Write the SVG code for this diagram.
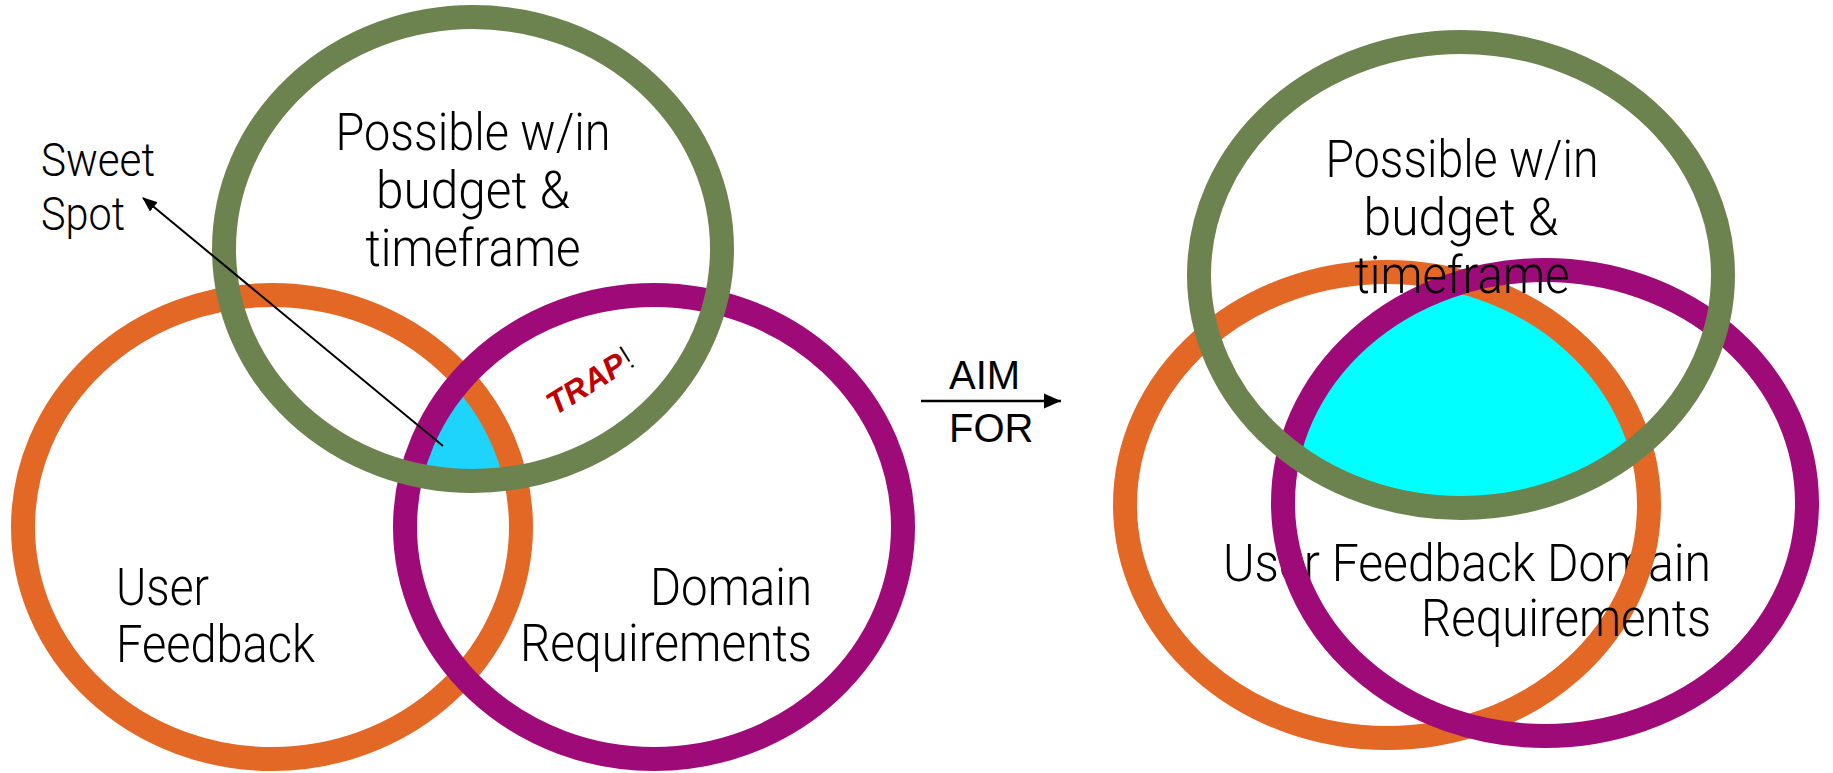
<svg xmlns="http://www.w3.org/2000/svg" width="1833" height="773" viewBox="0 0 1833 773">
  <style>
    .ring { fill: none; stroke-width: 24; }
    .green { stroke: #6C834F; }
    .orange { stroke: #E36826; }
    .purple { stroke: #9E0A77; }
    .label { font-family: Roboto, "Open Sans", Lato, "DejaVu Sans", sans-serif; font-weight: 300; font-size: 51px; fill: #000; }
    .small { font-size: 46px; }
    .mid { text-anchor: middle; }
    .end { text-anchor: end; }
    .aim { font-family: "Liberation Sans", Arial, sans-serif; font-size: 40px; fill: #000; }
    .trap { font-family: "Liberation Sans", Arial, sans-serif; font-size: 32px; font-weight: bold; font-style: italic; fill: #C00000; }
    .bang { font-family: Roboto, "DejaVu Sans", sans-serif; font-weight: 300; font-style: normal; font-size: 34px; fill: #000; }
    .conn { stroke: #000; fill: none; }
  </style>
  <defs>
    <marker id="headSmall" markerUnits="userSpaceOnUse" markerWidth="16" markerHeight="12" refX="14" refY="6" orient="auto">
      <path d="M0,0 L15,6 L0,12 Z" fill="#000"/>
    </marker>
    <marker id="headBig" markerUnits="userSpaceOnUse" markerWidth="18" markerHeight="16" refX="17" refY="8" orient="auto">
      <path d="M0,0.5 L17,8 L0,15.5 Z" fill="#000"/>
    </marker>
    <!-- interiors used to build the triple overlaps -->
    <clipPath id="clipLeftGreen"><ellipse cx="473" cy="249" rx="249" ry="232"/></clipPath>
    <clipPath id="clipLeftPurple"><ellipse cx="654" cy="527" rx="249" ry="232"/></clipPath>
    <clipPath id="clipRightGreen"><ellipse cx="1461" cy="275" rx="262" ry="233"/></clipPath>
    <clipPath id="clipRightPurple"><ellipse cx="1545" cy="503" rx="262" ry="233"/></clipPath>
  </defs>

  <rect width="1833" height="773" fill="#fff"/>

  <!-- overlap regions -->
  <g id="left-overlap" clip-path="url(#clipLeftGreen)">
    <ellipse cx="272" cy="527" rx="249" ry="232" fill="#1ED3FC" clip-path="url(#clipLeftPurple)"/>
  </g>
  <g id="right-overlap" clip-path="url(#clipRightGreen)">
    <ellipse cx="1387" cy="505" rx="262" ry="233" fill="#00FFFF" clip-path="url(#clipRightPurple)"/>
  </g>

  <!-- left set -->
  <g id="left-user-feedback">
    <ellipse class="ring orange" cx="272" cy="527" rx="249" ry="232"/>
    <text class="label" x="116" y="605" textLength="93" lengthAdjust="spacingAndGlyphs">User</text>
    <text class="label" x="116" y="662" textLength="199" lengthAdjust="spacingAndGlyphs">Feedback</text>
  </g>
  <g id="left-domain-requirements">
    <ellipse class="ring purple" cx="654" cy="527" rx="249" ry="232"/>
    <text class="label end" x="812" y="605" textLength="162" lengthAdjust="spacingAndGlyphs">Domain</text>
    <text class="label end" x="812" y="661" textLength="292" lengthAdjust="spacingAndGlyphs">Requirements</text>
  </g>
  <g id="left-budget">
    <ellipse class="ring green" cx="473" cy="249" rx="249" ry="232"/>
    <text class="label mid" x="473" y="150" textLength="275" lengthAdjust="spacingAndGlyphs">Possible w/in</text>
    <text class="label mid" x="473" y="208" textLength="194" lengthAdjust="spacingAndGlyphs">budget &amp;</text>
    <text class="label mid" x="473" y="266" textLength="215" lengthAdjust="spacingAndGlyphs">timeframe</text>
  </g>
  <g id="sweet-spot">
    <text class="label small" x="41" y="176" textLength="114" lengthAdjust="spacingAndGlyphs">Sweet</text>
    <text class="label small" x="41" y="230" textLength="84" lengthAdjust="spacingAndGlyphs">Spot</text>
  </g>
  <g id="trap">
    <text class="trap" transform="translate(555 416) rotate(-32)">TRAP<tspan class="bang" dx="1">!</tspan></text>
  </g>

  <!-- right set -->
  <g id="right-user-feedback">
    <text class="label end" x="1711" y="581" textLength="488" lengthAdjust="spacingAndGlyphs">User Feedback Domain</text>
    <ellipse class="ring orange" cx="1387" cy="505" rx="262" ry="233"/>
  </g>
  <g id="right-domain-requirements">
    <text class="label end" x="1711" y="636" textLength="290" lengthAdjust="spacingAndGlyphs">Requirements</text>
    <ellipse class="ring purple" cx="1545" cy="503" rx="262" ry="233"/>
  </g>
  <g id="right-budget">
    <ellipse class="ring green" cx="1461" cy="275" rx="262" ry="233"/>
    <text class="label mid" x="1462" y="177" textLength="273" lengthAdjust="spacingAndGlyphs">Possible w/in</text>
    <text class="label mid" x="1461" y="235" textLength="195" lengthAdjust="spacingAndGlyphs">budget &amp;</text>
    <text class="label mid" x="1462" y="293" textLength="215" lengthAdjust="spacingAndGlyphs">timeframe</text>
  </g>

  <g id="aim-for">
    <text class="aim" x="949" y="389">AIM</text>
    <text class="aim" x="949" y="442">FOR</text>
  </g>

  <!-- connectors -->
  <g id="connectors">
    <line class="conn" x1="443" y1="446" x2="143" y2="198" stroke-width="2" marker-end="url(#headSmall)"/>
    <line class="conn" x1="921" y1="401" x2="1061" y2="401" stroke-width="2.5" marker-end="url(#headBig)"/>
  </g>
</svg>
